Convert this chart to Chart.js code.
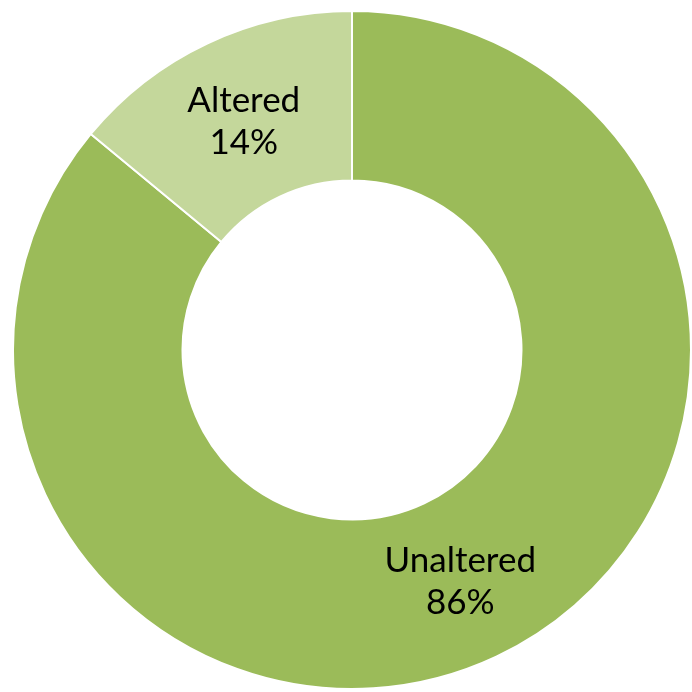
<!DOCTYPE html>
<html>
<head>
<meta charset="utf-8">
<script src="https://cdn.jsdelivr.net/npm/chart.js@4"></script>
<style>
  html, body { margin: 0; padding: 0; background: #fff; }
  #wrap { width: 692px; height: 692px; }
</style>
</head>
<body>
<div id="wrap"><canvas id="altered_donut"></canvas></div>
<script>
const labels_donut = ['Unaltered', 'Altered'];
const values_donut = [86, 14];
const colors_donut = ['#9BBB59', '#C4D79B'];

// writes "name / pct%" in the middle of each ring segment
const ringLabels = {
  id: 'ringLabels',
  afterDatasetsDraw(chart) {
    const ctx = chart.ctx;
    const meta = chart.getDatasetMeta(0);
    const total = values_donut.reduce((a, b) => a + b, 0);
    ctx.save();
    ctx.fillStyle = '#000';
    ctx.font = '35px Lato';
    ctx.textAlign = 'center';
    ctx.textBaseline = 'alphabetic';
    meta.data.forEach((arc, i) => {
      const p = arc.tooltipPosition();
      const pct = Math.round(values_donut[i] / total * 100) + '%';
      ctx.fillText(labels_donut[i], p.x, p.y - 8);
      ctx.fillText(pct, p.x, p.y + 34);
    });
    ctx.restore();
  },
};

const ctx_donut = document.getElementById('altered_donut');
const chart_donut = new Chart(ctx_donut, {
  type: 'doughnut',
  data: {
    labels: labels_donut,
    datasets: [{
      data: values_donut,
      backgroundColor: colors_donut,
      borderColor: '#ffffff',
      borderWidth: 2,
    }],
  },
  options: {
    responsive: true,
    maintainAspectRatio: false,
    animation: false,
    cutout: '50%',
    layout: { padding: { left: 12, right: 0, top: 10, bottom: 2 } },
    plugins: {
      legend: { display: false },
      tooltip: { enabled: false },
    },
  },
  plugins: [ringLabels],
});
</script>
</body>
</html>
